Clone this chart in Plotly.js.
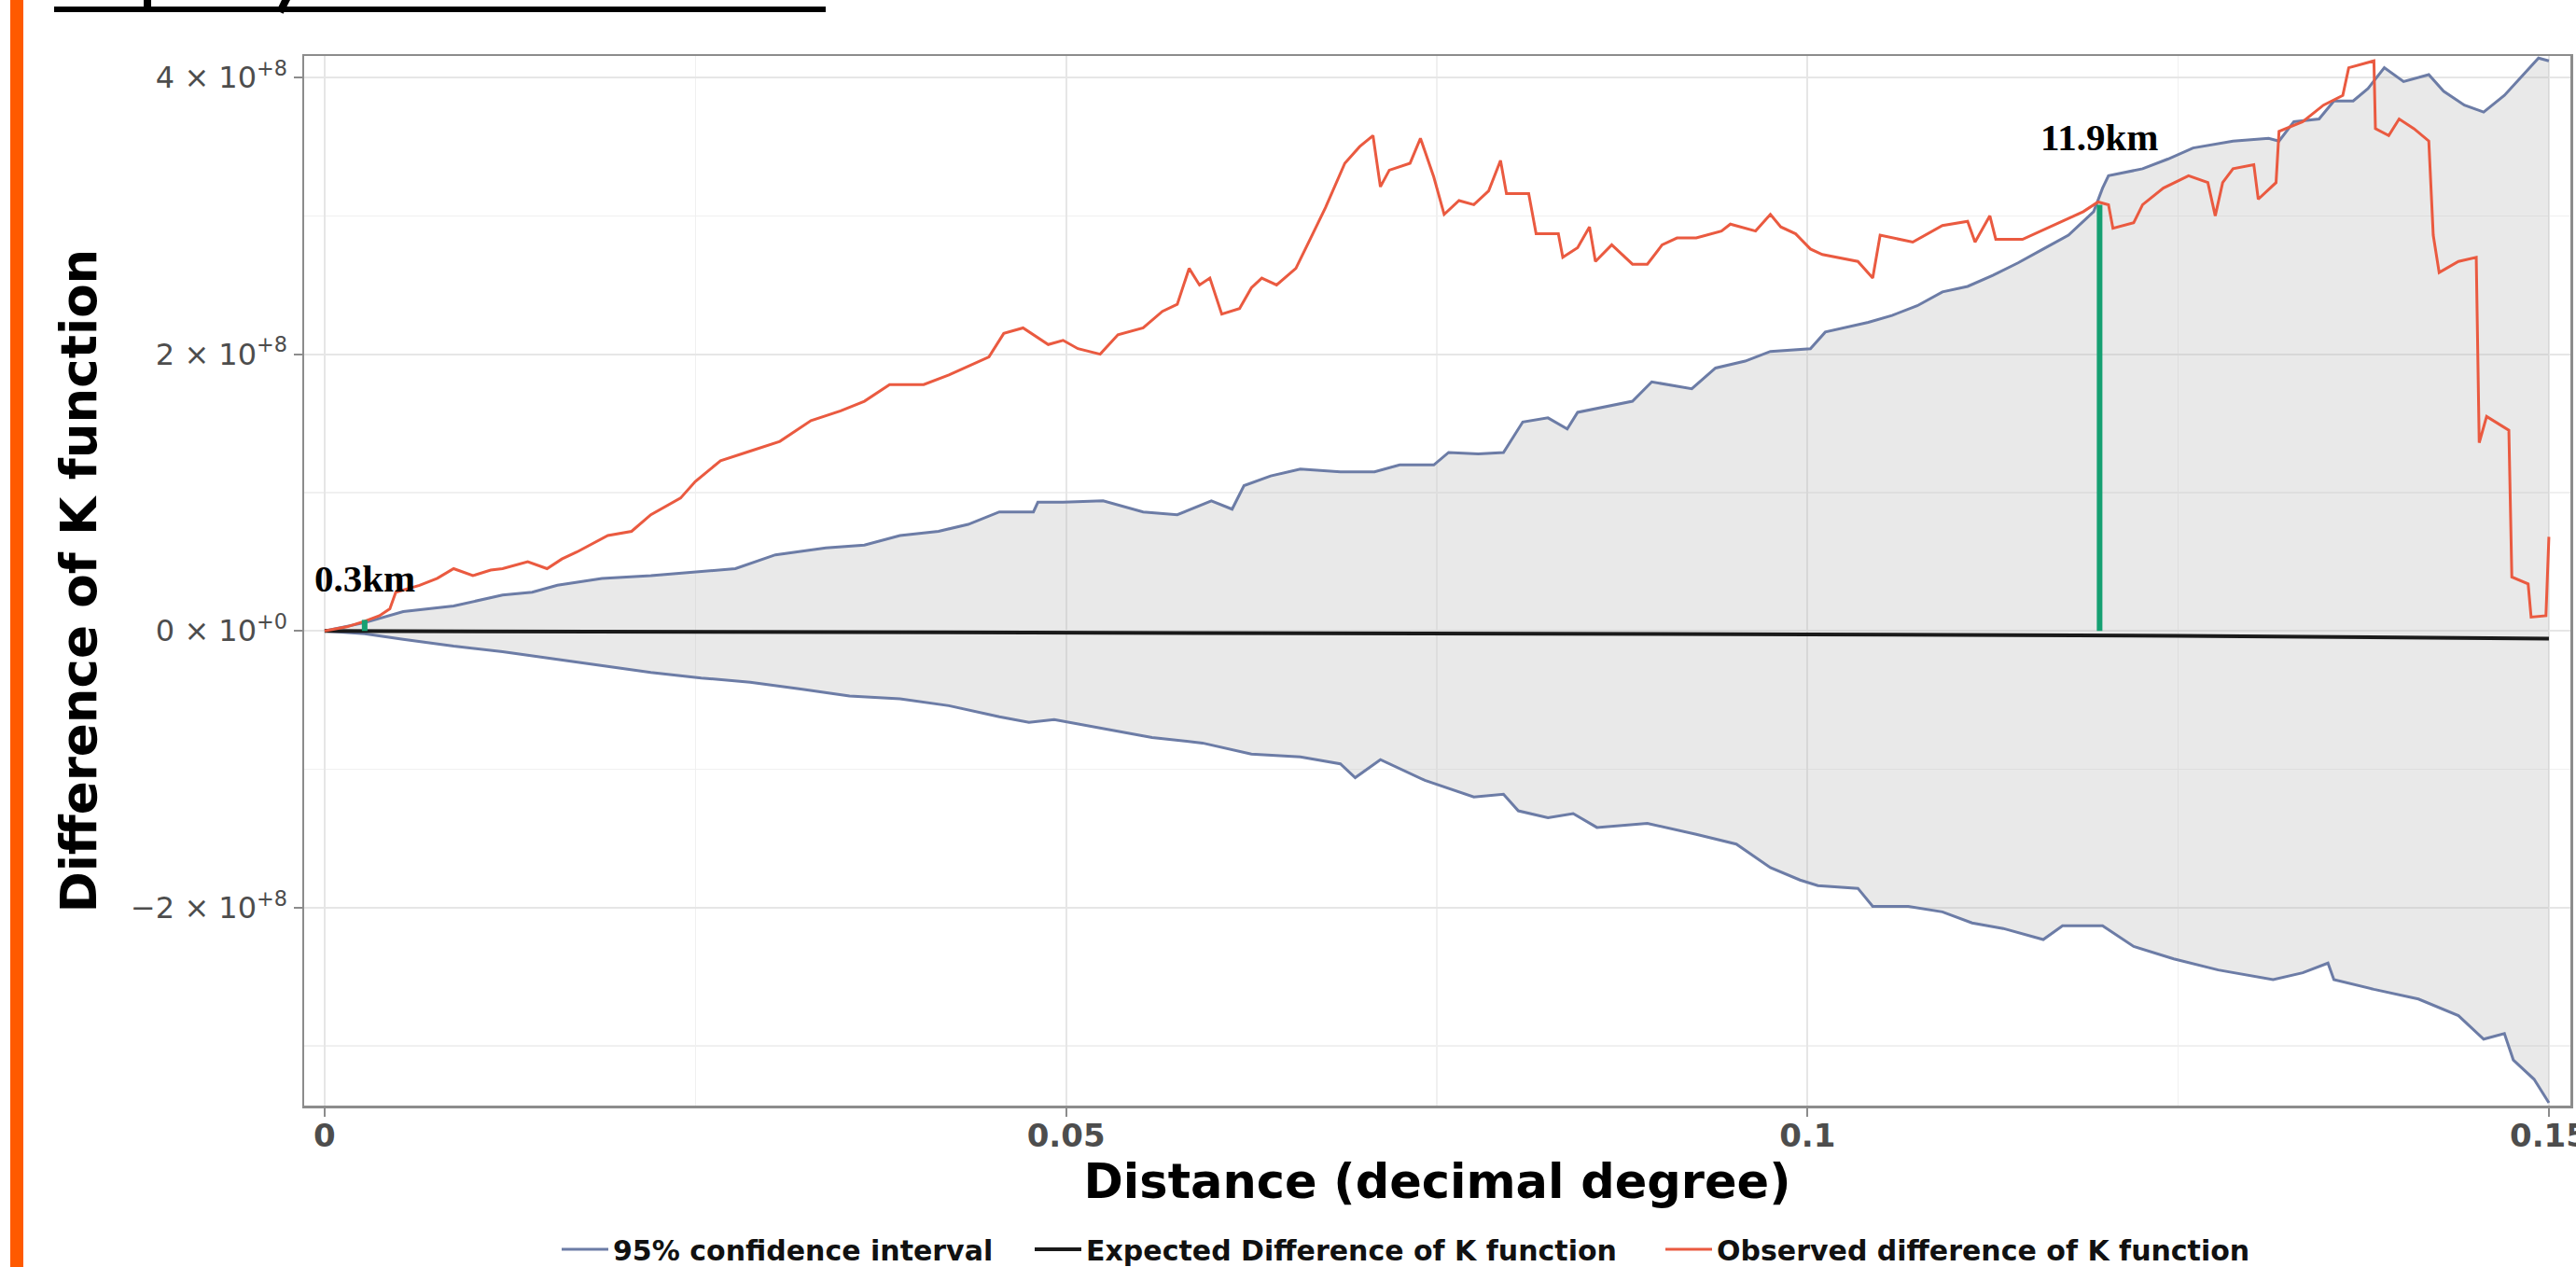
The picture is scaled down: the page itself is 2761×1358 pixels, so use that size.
<!DOCTYPE html>
<html><head><meta charset="utf-8">
<script src="https://cdn.plot.ly/plotly-3.0.1.min.js"></script>
<style>html,body{margin:0;padding:0;background:#fff;overflow:hidden}</style>
</head><body><div id="chart" style="width:2761px;height:1358px"></div>
<script>
// values in units of 1e8
const UNIT = 1e8;
const ciUpper = [[0,0],[0.0027,0.06],[0.0053,0.14],[0.0087,0.18],[0.0120,0.26],[0.0140,0.28],[0.0157,0.33],[0.0187,0.38],[0.0220,0.40],[0.0254,0.43],[0.0277,0.45],[0.0304,0.55],[0.0338,0.60],[0.0364,0.62],[0.0388,0.69],[0.0414,0.72],[0.0434,0.77],[0.0455,0.86],[0.0478,0.86],[0.0481,0.93],[0.0498,0.93],[0.0525,0.94],[0.0552,0.86],[0.0575,0.84],[0.0598,0.94],[0.0612,0.88],[0.0620,1.05],[0.0638,1.12],[0.0658,1.17],[0.0685,1.15],[0.0708,1.15],[0.0725,1.20],[0.0748,1.20],[0.0758,1.29],[0.0778,1.28],[0.0795,1.29],[0.0808,1.51],[0.0825,1.54],[0.0838,1.46],[0.0845,1.58],[0.0868,1.63],[0.0882,1.66],[0.0895,1.80],[0.0922,1.75],[0.0938,1.90],[0.0958,1.95],[0.0975,2.02],[0.1002,2.04],[0.1012,2.16],[0.1041,2.23],[0.1057,2.28],[0.1074,2.35],[0.1091,2.45],[0.1108,2.49],[0.1125,2.57],[0.1142,2.66],[0.1159,2.76],[0.1176,2.86],[0.1193,3.03],[0.1199,3.20],[0.1203,3.29],[0.1226,3.34],[0.1243,3.41],[0.1260,3.49],[0.1287,3.54],[0.1311,3.56],[0.1318,3.54],[0.1328,3.68],[0.1345,3.70],[0.1355,3.83],[0.1368,3.83],[0.1378,3.92],[0.1389,4.07],[0.1402,3.97],[0.1419,4.02],[0.1429,3.90],[0.1443,3.80],[0.1456,3.75],[0.1470,3.87],[0.1483,4.02],[0.1493,4.14],[0.1500,4.12]];
const ciLower = [[0,0],[0.0027,-0.02],[0.0053,-0.06],[0.0087,-0.11],[0.0120,-0.15],[0.0154,-0.20],[0.0187,-0.25],[0.0220,-0.30],[0.0254,-0.34],[0.0287,-0.37],[0.0321,-0.42],[0.0354,-0.47],[0.0388,-0.49],[0.0421,-0.54],[0.0455,-0.62],[0.0475,-0.66],[0.0492,-0.64],[0.0518,-0.69],[0.0558,-0.77],[0.0592,-0.81],[0.0625,-0.89],[0.0658,-0.91],[0.0685,-0.96],[0.0695,-1.06],[0.0712,-0.93],[0.0742,-1.08],[0.0775,-1.20],[0.0795,-1.18],[0.0805,-1.30],[0.0825,-1.35],[0.0842,-1.32],[0.0858,-1.42],[0.0892,-1.39],[0.0925,-1.47],[0.0952,-1.54],[0.0975,-1.71],[0.0995,-1.80],[0.1007,-1.84],[0.1034,-1.86],[0.1044,-1.99],[0.1068,-1.99],[0.1091,-2.03],[0.1111,-2.11],[0.1132,-2.15],[0.1159,-2.23],[0.1172,-2.13],[0.1199,-2.13],[0.1220,-2.28],[0.1247,-2.37],[0.1277,-2.45],[0.1314,-2.52],[0.1334,-2.47],[0.1351,-2.40],[0.1355,-2.52],[0.1382,-2.59],[0.1412,-2.66],[0.1439,-2.78],[0.1456,-2.95],[0.1470,-2.91],[0.1476,-3.10],[0.1490,-3.24],[0.1500,-3.41]];
const observed = [[0,0],[0.0015,0.03],[0.0027,0.07],[0.0037,0.11],[0.0044,0.16],[0.0048,0.28],[0.0064,0.33],[0.0076,0.38],[0.0087,0.45],[0.0100,0.40],[0.0112,0.44],[0.0120,0.45],[0.0137,0.50],[0.0150,0.45],[0.0160,0.52],[0.0170,0.57],[0.0191,0.69],[0.0207,0.72],[0.0220,0.84],[0.0240,0.96],[0.0250,1.08],[0.0267,1.23],[0.0287,1.30],[0.0307,1.37],[0.0328,1.52],[0.0348,1.59],[0.0364,1.66],[0.0381,1.78],[0.0404,1.78],[0.0421,1.85],[0.0448,1.98],[0.0458,2.15],[0.0471,2.19],[0.0488,2.07],[0.0498,2.10],[0.0508,2.04],[0.0523,2.00],[0.0535,2.14],[0.0552,2.19],[0.0565,2.31],[0.0575,2.36],[0.0583,2.62],[0.0590,2.50],[0.0597,2.55],[0.0605,2.29],[0.0617,2.33],[0.0625,2.48],[0.0632,2.55],[0.0642,2.50],[0.0655,2.62],[0.0665,2.84],[0.0675,3.06],[0.0688,3.38],[0.0698,3.50],[0.0707,3.58],[0.0712,3.21],[0.0718,3.33],[0.0732,3.38],[0.0739,3.56],[0.0748,3.28],[0.0755,3.01],[0.0765,3.11],[0.0775,3.08],[0.0785,3.18],[0.0793,3.40],[0.0797,3.16],[0.0812,3.16],[0.0817,2.87],[0.0832,2.87],[0.0835,2.70],[0.0845,2.77],[0.0853,2.92],[0.0857,2.67],[0.0868,2.79],[0.0882,2.65],[0.0892,2.65],[0.0902,2.79],[0.0912,2.84],[0.0925,2.84],[0.0942,2.89],[0.0948,2.94],[0.0965,2.89],[0.0975,3.01],[0.0982,2.92],[0.0992,2.87],[0.1002,2.76],[0.1010,2.72],[0.1034,2.67],[0.1044,2.55],[0.1049,2.86],[0.1071,2.81],[0.1091,2.93],[0.1108,2.96],[0.1113,2.81],[0.1123,3.00],[0.1127,2.83],[0.1145,2.83],[0.1166,2.93],[0.1186,3.03],[0.1196,3.10],[0.1203,3.08],[0.1206,2.91],[0.1220,2.95],[0.1226,3.08],[0.1240,3.20],[0.1257,3.29],[0.1270,3.24],[0.1275,3.00],[0.1280,3.24],[0.1287,3.34],[0.1301,3.37],[0.1304,3.12],[0.1316,3.24],[0.1318,3.61],[0.1334,3.68],[0.1348,3.80],[0.1361,3.87],[0.1365,4.07],[0.1382,4.12],[0.1383,3.63],[0.1392,3.58],[0.1399,3.70],[0.1409,3.63],[0.1419,3.54],[0.1422,2.86],[0.1426,2.59],[0.1439,2.67],[0.1451,2.70],[0.1453,1.36],[0.1458,1.55],[0.1473,1.45],[0.1475,0.39],[0.1486,0.34],[0.1488,0.10],[0.1498,0.11],[0.1500,0.68]];
const expected = [[0,0],[0.025,-0.005],[0.05,-0.01],[0.075,-0.015],[0.1,-0.025],[0.125,-0.035],[0.15,-0.055]];
// crossing distances (decimal degree), their top values and labels
const crossX = [0.0027, 0.1197];
const crossTop = [0.08, 3.08];
const crossLabelY = [0.38, 3.57];
const crossLabels = ['0.3km', '11.9km'];
const xTickVals = [0, 0.05, 0.1, 0.15];
const xTickText = ['0', '0.05', '0.1', '0.15'];
const yTickVals = [-2, 0, 2, 4];
const yTickText = ['\u22122 \u00d7 10<sup>+8</sup>', '0 \u00d7 10<sup>+0</sup>', '2 \u00d7 10<sup>+8</sup>', '4 \u00d7 10<sup>+8</sup>'];
const seriesNames = ['95% confidence interval', 'Expected Difference of K function', 'Observed difference of K function'];

const xs = a => a.map(p => p[0]);
const ys = a => a.map(p => p[1] * UNIT);

const CI_COL = '#6c7ca6', OBS_COL = '#ea5a40', EXP_COL = '#1a1a1a', GREEN = '#16a072';

const traces = [];
traces.push({
  x: xs(ciUpper).concat(xs(ciLower).slice().reverse()),
  y: ys(ciUpper).concat(ys(ciLower).slice().reverse()),
  type: 'scatter', mode: 'lines', fill: 'toself',
  fillcolor: 'rgba(175,175,175,0.28)', line: {width: 0}, hoverinfo: 'skip', showlegend: false
});
traces.push({x: xs(ciUpper), y: ys(ciUpper), type: 'scatter', mode: 'lines', name: seriesNames[0],
  legend: 'legend', legendgroup: 'ci', line: {color: CI_COL, width: 3}});
traces.push({x: xs(ciLower), y: ys(ciLower), type: 'scatter', mode: 'lines', name: seriesNames[0],
  legend: 'legend', legendgroup: 'ci', showlegend: false, line: {color: CI_COL, width: 3}});
traces.push({x: xs(expected), y: ys(expected), type: 'scatter', mode: 'lines', name: seriesNames[1],
  legend: 'legend2', line: {color: EXP_COL, width: 4}});
traces.push({x: xs(observed), y: ys(observed), type: 'scatter', mode: 'lines', name: seriesNames[2],
  legend: 'legend3', line: {color: OBS_COL, width: 3}});
crossX.forEach((cx, i) => {
  traces.push({x: [cx, cx], y: [0, crossTop[i] * UNIT], type: 'scatter', mode: 'lines',
    showlegend: false, line: {color: GREEN, width: 6}});
});

const annotations = crossX.map((cx, i) => ({
  x: cx, y: crossLabelY[i] * UNIT, xref: 'x', yref: 'y', text: '<b>' + crossLabels[i] + '</b>',
  showarrow: false, font: {family: 'Liberation Serif, Times New Roman, serif', size: 41, color: '#000'}
}));

const L = 326, R = 2755, T = 60, B = 1185;
const px = v => (v - L) / (R - L);
const py = v => (B - v) / (B - T);
const shapes = [
  {type: 'rect', xref: 'paper', yref: 'paper', x0: px(11), x1: px(25), y0: py(1380), y1: py(-20),
    fillcolor: '#ff5a00', line: {width: 0}},
  {type: 'line', xref: 'paper', yref: 'paper', x0: px(58), x1: px(885), y0: py(10), y1: py(10),
    line: {color: '#000', width: 6}},
  {type: 'line', xref: 'paper', yref: 'paper', x0: px(158), x1: px(158), y0: py(-5), y1: py(13),
    line: {color: '#000', width: 8}},
  {type: 'line', xref: 'paper', yref: 'paper', x0: px(309), x1: px(300), y0: py(-5), y1: py(13),
    line: {color: '#000', width: 8}}
];

const legendBase = textStart => ({
  orientation: 'h', x: px(textStart - 62), xanchor: 'left', y: py(1339), yanchor: 'middle',
  font: {size: 30, color: '#111', weight: 'bold'}, itemwidth: 50, bgcolor: 'rgba(0,0,0,0)'
});

const gridCol = '#e6e6e6';
const layout = {
  width: 2761, height: 1358,
  margin: {l: L, r: 2761 - R, t: T, b: 1358 - B, autoexpand: false},
  paper_bgcolor: '#fff', plot_bgcolor: '#fff',
  font: {family: 'DejaVu Sans, sans-serif'},
  showlegend: true,
  legend: legendBase(659),
  legend2: legendBase(1166),
  legend3: legendBase(1842),
  xaxis: {
    range: [-0.00138, 0.15145], tickmode: 'array', tickvals: xTickVals, ticktext: xTickText,
    tickfont: {size: 34, color: '#4d4d4d', weight: 'bold'}, ticklabeloverflow: 'allow', ticklabelstandoff: -8,
    ticks: 'outside', ticklen: 9, tickwidth: 2, tickcolor: '#8c8c8c',
    showgrid: true, gridcolor: gridCol, gridwidth: 2, zeroline: false,
    minor: {tickmode: 'linear', tick0: 0, dtick: 0.025, showgrid: true, gridcolor: '#f0f0f0', gridwidth: 1.5},
    showline: true, mirror: true, linecolor: '#8c8c8c', linewidth: 2.5,
    title: {text: 'Distance (decimal degree)', font: {size: 51, color: '#000', weight: 'bold'}, standoff: 10}
  },
  yaxis: {
    range: [-3.43 * UNIT, 4.155 * UNIT], tickmode: 'array', tickvals: yTickVals.map(v => v * UNIT), ticktext: yTickText,
    tickfont: {size: 32, color: '#4d4d4d'},
    ticks: 'outside', ticklen: 9, tickwidth: 2, tickcolor: '#8c8c8c',
    showgrid: true, gridcolor: gridCol, gridwidth: 2, zeroline: false,
    minor: {tickmode: 'linear', tick0: 0, dtick: 1 * UNIT, showgrid: true, gridcolor: '#f0f0f0', gridwidth: 1.5},
    showline: true, mirror: true, linecolor: '#8c8c8c', linewidth: 2.5,
    title: {text: 'Difference of K function', font: {size: 53, color: '#000', weight: 'bold'}, standoff: 20}
  },
  annotations: annotations,
  shapes: shapes
};

Plotly.newPlot('chart', traces, layout, {displayModeBar: false, staticPlot: true});
</script></body></html>
